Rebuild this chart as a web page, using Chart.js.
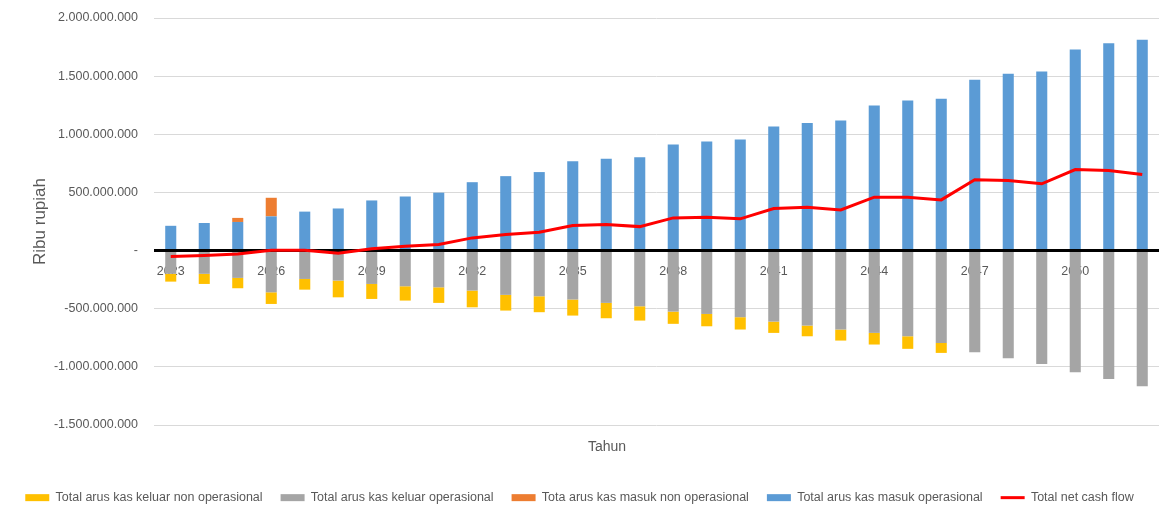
<!DOCTYPE html>
<html>
<head>
<meta charset="utf-8">
<script src="https://cdn.jsdelivr.net/npm/chart.js@4.4.1/dist/chart.umd.min.js"></script>
<style>
  html, body { margin: 0; padding: 0; background: #ffffff; }
  #wrap { width: 1160px; height: 510px; }
</style>
</head>
<body>
<div id="wrap"><canvas id="arusKas" width="1160" height="510"></canvas></div>
<script>
// Tahun proyeksi
const years = ['2023','2024','2025','2026','2027','2028','2029','2030','2031','2032',
               '2033','2034','2035','2036','2037','2038','2039','2040','2041','2042',
               '2043','2044','2045','2046','2047','2048','2049','2050','2051','2052'];

// Label sumbu X yang ditampilkan (setiap tiga tahun)
const tickYears = ['2023','2026','2029','2032','2035','2038','2041','2044','2047','2050'];

// Nilai dalam ribu rupiah
const kasMasukOperasional = [
  213000000, 237000000, 246000000, 294000000, 335000000, 362000000, 431000000, 465000000, 498000000, 588000000,
  640000000, 675000000, 769000000, 790000000, 803000000, 912000000, 938000000, 955000000, 1067000000, 1097000000,
  1118000000, 1247000000, 1290000000, 1305000000, 1468000000, 1520000000, 1540000000, 1729000000, 1783000000, 1812000000
];
const kasMasukNonOperasional = [
  0, 0, 35000000, 160000000, 0, 0, 0, 0, 0, 0,
  0, 0, 0, 0, 0, 0, 0, 0, 0, 0,
  0, 0, 0, 0, 0, 0, 0, 0, 0, 0
];
const kasKeluarOperasional = [
  -200000000, -200000000, -235000000, -359000000, -244000000, -258000000, -287000000, -307000000, -316000000, -344000000,
  -381000000, -393000000, -421000000, -450000000, -479000000, -525000000, -545000000, -573000000, -611000000, -645000000,
  -679000000, -708000000, -737000000, -794000000, -875000000, -926000000, -975000000, -1047000000, -1104000000, -1167000000
];
const kasKeluarNonOperasional = [
  -67000000, -87000000, -89000000, -100000000, -92000000, -144000000, -129000000, -123000000, -134000000, -144000000,
  -135000000, -137000000, -138000000, -132000000, -123000000, -105000000, -106000000, -106000000, -97000000, -92000000,
  -95000000, -100000000, -108000000, -86000000, 0, 0, 0, 0, 0, 0
];
const netCashFlow = [
  -52000000, -43000000, -29000000, 3000000, 3000000, -23000000, 15000000, 37000000, 52000000, 109000000,
  138000000, 158000000, 215000000, 224000000, 206000000, 281000000, 287000000, 273000000, 362000000, 373000000,
  350000000, 459000000, 459000000, 436000000, 609000000, 602000000, 574000000, 697000000, 688000000, 654000000
];

const TEXT_COLOR = '#595959';
const FONT_FAMILY = "'Liberation Sans', Arial, sans-serif";
Chart.defaults.font.family = FONT_FAMILY;
Chart.defaults.color = TEXT_COLOR;

// Format angka gaya Indonesia: titik sebagai pemisah ribuan, nol sebagai "-"
function formatRibu(v) {
  if (v === 0) return '-';
  const s = Math.abs(Math.round(v)).toString().replace(/\B(?=(\d{3})+(?!\d))/g, '.');
  return (v < 0 ? '-' : '') + s;
}

// Garis nol tebal di bawah garis net cash flow, dan judul sumbu "Tahun"
const zeroLineAndTitle = {
  id: 'zeroLineAndTitle',
  beforeDatasetDraw(chart, args) {
    if (args.meta.type !== 'line') return;
    const { ctx, chartArea, scales } = chart;
    const y = scales.y.getPixelForValue(0);
    ctx.save();
    ctx.strokeStyle = '#000000';
    ctx.lineWidth = 3;
    ctx.beginPath();
    ctx.moveTo(chartArea.left, y);
    ctx.lineTo(chartArea.right, y);
    ctx.stroke();
    ctx.restore();
  },
  afterDraw(chart, args, opts) {
    const { ctx } = chart;
    ctx.save();
    ctx.fillStyle = TEXT_COLOR;
    ctx.font = opts.fontSize + 'px ' + FONT_FAMILY;
    ctx.textAlign = 'center';
    ctx.textBaseline = 'middle';
    ctx.fillText(opts.text, opts.x, opts.y);
    ctx.restore();
  }
};

// Urutan legenda
const legendRank = { 2: 0, 0: 1, 3: 2, 1: 3, 4: 4 };

const barCommon = { borderWidth: 0, barPercentage: 0.33, categoryPercentage: 1.0, order: 1 };

new Chart(document.getElementById('arusKas'), {
  type: 'bar',
  data: {
    labels: years,
    datasets: [
      { ...barCommon, label: 'Total arus kas keluar operasional', data: kasKeluarOperasional, backgroundColor: '#A5A5A5' },
      { ...barCommon, label: 'Total arus kas masuk operasional', data: kasMasukOperasional, backgroundColor: '#5B9BD5' },
      { ...barCommon, label: 'Total arus kas keluar non operasional', data: kasKeluarNonOperasional, backgroundColor: '#FFC000' },
      { ...barCommon, label: 'Tota arus kas masuk non operasional', data: kasMasukNonOperasional, backgroundColor: '#ED7D31' },
      {
        type: 'line', label: 'Total net cash flow', data: netCashFlow,
        borderColor: '#FF0000', backgroundColor: '#FF0000', borderWidth: 3,
        pointRadius: 0, tension: 0, order: 0
      }
    ]
  },
  options: {
    responsive: false,
    devicePixelRatio: 1,
    animation: false,
    layout: { padding: { top: 18, right: 1, bottom: 0, left: 0 } },
    plugins: {
      tooltip: { enabled: false },
      zeroLineAndTitle: { text: 'Tahun', x: 607, y: 447, fontSize: 14 },
      legend: {
        position: 'bottom',
        align: 'center',
        maxHeight: 85,
        title: { display: true, text: '', padding: { top: 34, bottom: 0 } },
        labels: {
          usePointStyle: true,
          pointStyleWidth: 24,
          boxHeight: 7,
          padding: 18,
          color: TEXT_COLOR,
          font: { size: 12.5, family: FONT_FAMILY },
          generateLabels(chart) {
            const items = Chart.defaults.plugins.legend.labels.generateLabels(chart);
            items.forEach(it => {
              const ds = chart.data.datasets[it.datasetIndex];
              if (ds.type === 'line') {
                it.pointStyle = 'line';
                it.lineWidth = 3;
                it.strokeStyle = ds.borderColor;
              } else {
                it.pointStyle = 'rect';
                it.lineWidth = 0;
              }
            });
            return items;
          },
          sort: (a, b) => legendRank[a.datasetIndex] - legendRank[b.datasetIndex]
        }
      }
    },
    scales: {
      x: {
        type: 'category',
        position: { y: 0 },
        stacked: true,
        offset: true,
        z: 1,
        grid: { display: false, drawTicks: false },
        border: { display: false },
        ticks: {
          autoSkip: false,
          maxRotation: 0,
          padding: 13,
          color: TEXT_COLOR,
          font: { size: 12.5 },
          callback(value, index) {
            const lbl = years[index];
            return tickYears.includes(lbl) ? lbl : '';
          }
        }
      },
      y: {
        stacked: true,
        min: -1500000000,
        max: 2000000000,
        afterFit(scale) {
          scale.width = 154;
          scale.paddingTop = 8;
          scale.paddingBottom = 8;
        },
        grid: { color: '#D9D9D9', lineWidth: 1, drawTicks: false },
        border: { display: false },
        ticks: {
          stepSize: 500000000,
          padding: 16,
          color: TEXT_COLOR,
          font: { size: 12.5 },
          callback: v => formatRibu(v)
        },
        title: {
          display: true,
          text: 'Ribu rupiah',
          color: TEXT_COLOR,
          font: { size: 17 },
          padding: { top: 30, bottom: 0 }
        }
      }
    }
  },
  plugins: [zeroLineAndTitle]
});
</script>
</body>
</html>
